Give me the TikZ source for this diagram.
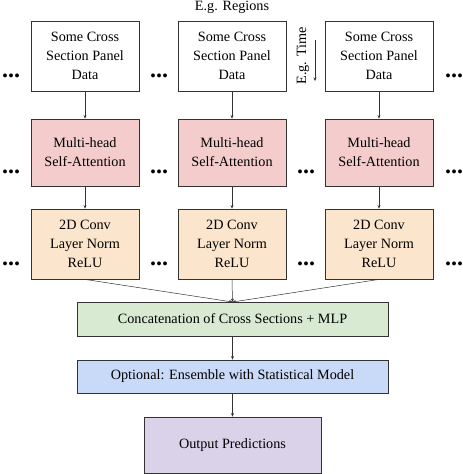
\documentclass[tikz,border=0pt]{standalone}
\usepackage{fontspec}
\setmainfont{Liberation Serif}
\usetikzlibrary{arrows.meta}
\definecolor{attn}{HTML}{F4CCCC}
\definecolor{conv}{HTML}{FCE5CD}
\definecolor{concat}{HTML}{D9EAD3}
\definecolor{opt}{HTML}{C9DAF8}
\definecolor{outp}{HTML}{D9D2E9}
\definecolor{edge}{HTML}{333333}
\begin{document}
\begin{tikzpicture}[x=1pt,y=-1pt,
  box/.style={draw=edge,line width=0.8pt,align=center,inner sep=0pt,font=\fontsize{14.2}{19}\selectfont},
  colbox/.style={box,minimum width=108pt},
  arr/.style={-{Stealth[length=3.5pt,width=3pt]},draw=edge,line width=0.5pt},
  dots/.style={font=\fontsize{24}{24}\selectfont\bfseries,inner sep=0pt,anchor=base}]
\useasboundingbox (0,0) rectangle (463,474);
\foreach \i/\x in {1/85,2/232,3/379}{
  \node[colbox,minimum height=70pt] (d\i) at (\x,56) {Some Cross\\Section Panel\\Data};
  \node[colbox,minimum height=67pt,fill=attn] (a\i) at (\x,152.5) {Multi-head\\Self-Attention};
  \node[colbox,minimum height=70pt,fill=conv] (c\i) at (\x,244) {2D Conv\\Layer Norm\\ReLU};
  \draw[arr] (d\i) -- (a\i);
  \draw[arr] (a\i) -- (c\i);
}
\node[box,minimum width=311pt,minimum height=34pt,fill=concat] (cat) at (232.5,319) {Concatenation of Cross Sections + MLP};
\node[box,minimum width=311pt,minimum height=33pt,fill=opt] (ens) at (232.5,376.5) {Optional: Ensemble with Statistical Model};
\node[box,minimum width=177pt,minimum height=56pt,fill=outp] (out) at (232.5,445) {Output Predictions};
\coordinate (m) at (232.5,302);
\foreach \i in {1,2,3}{ \draw[arr] (c\i.south) -- (m); }
\draw[arr] (cat) -- (ens);
\draw[arr] (ens) -- (out);
% dots
\foreach \y/\r in {77/1,173/2,265/3}{
  \node[dots] (l\r) at (11,\y) {...};
  \node[dots] (m\r) at (159,\y) {...};
  \node[dots] (r\r) at (454,\y) {...};
}
\node[dots] (n2) at (306,173) {...};
\node[dots] (n3) at (306,265) {...};
\node[font=\fontsize{14.2}{16}\selectfont,inner sep=0pt] (reg) at (232,7) {E.g. Regions};
\node[font=\fontsize{14.2}{16}\selectfont,inner sep=0pt,rotate=90] (time) at (303,56) {E.g. Time};
\coordinate (t1) at (315,40);
\coordinate (t2) at (315,81);
\draw[arr] (t1) -- (t2);
\end{tikzpicture}
\end{document}
